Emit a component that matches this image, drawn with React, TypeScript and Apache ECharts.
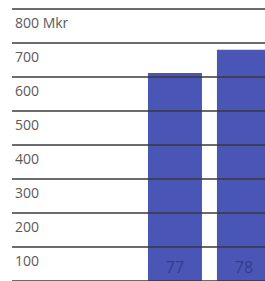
import React, { useEffect, useRef } from "react";
import * as echarts from "echarts";

const years = [77, 78];
const values = [612, 680];
const yTicks = [0, 100, 200, 300, 400, 500, 600, 700, 800];
const unit = "Mkr";

export default function App() {
  const ref = useRef<HTMLDivElement>(null);
  useEffect(() => {
    const chart = echarts.init(ref.current!, null, { renderer: "svg" });
    chart.setOption({
      animation: false,
      grid: { left: 12, right: 0, top: 9, bottom: -2, containLabel: false },
      xAxis: {
        type: "value",
        min: 74.638,
        max: 78.305,
        show: false,
        splitLine: { show: false },
      },
      yAxis: {
        type: "value",
        min: yTicks[0],
        max: yTicks[yTicks.length - 1],
        interval: 100,
        z: 5,
        axisLine: { show: false },
        axisTick: { show: false },
        splitLine: { show: true, lineStyle: { color: "#3a3a3a", width: 1.5 } },
        axisLabel: {
          inside: true,
          margin: 3,
          verticalAlign: "top",
          padding: [6, 0, 0, 0],
          color: "#5a5a5a",
          fontFamily: "Open Sans",
          fontSize: 14,
          formatter: (v: number) => (v === 0 ? "" : v === 800 ? `${v} ${unit}` : `${v}`),
        },
      },
      series: [
        {
          type: "bar",
          data: years.map((y, i) => [y, values[i]]),
          barWidth: 54,
          itemStyle: { color: "#4a56b6" },
          label: {
            show: true,
            position: "insideBottom",
            distance: 6,
            formatter: (p: any) => `${p.value[0]}`,
            color: "#353c8c",
            fontFamily: "Open Sans",
            fontSize: 16,
          },
        },
      ],
    });
    return () => chart.dispose();
  }, []);
  return <div ref={ref} style={{ width: 265, height: 281, position: "absolute", left: 0, top: 0 }} />;
}
